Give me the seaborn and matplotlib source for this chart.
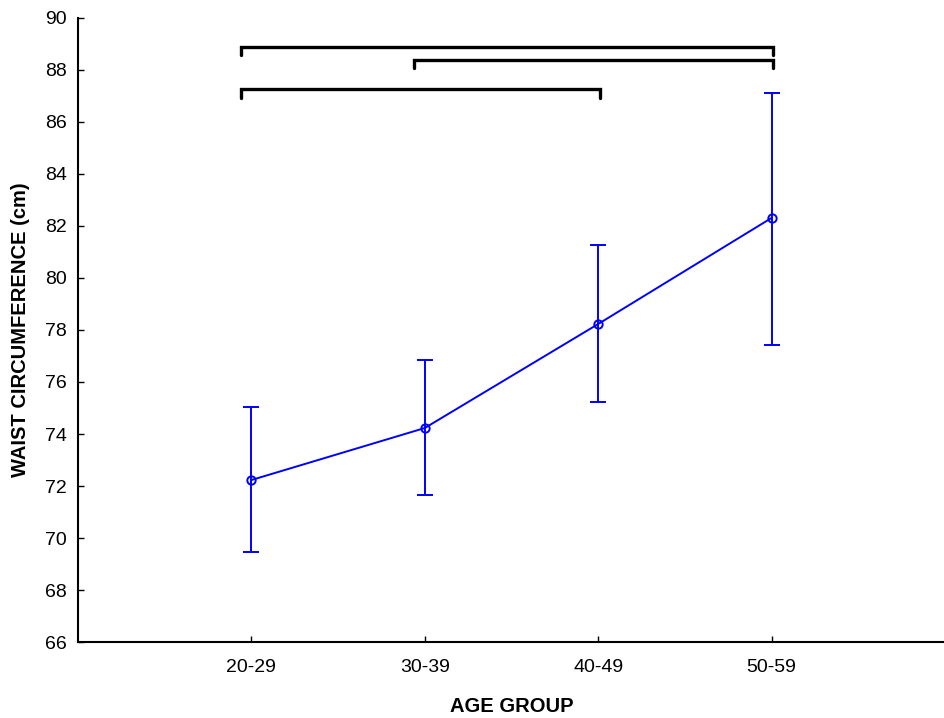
import numpy as np
import pandas as pd
import matplotlib
matplotlib.use("Agg")
import matplotlib.pyplot as plt
import seaborn as sns

# data
age_groups = ['20-29', '30-39', '40-49', '50-59']
waist_mean = [72.23, 74.23, 78.23, 82.31]
waist_upper = [75.04, 76.85, 81.27, 87.12]
waist_lower = [69.46, 71.65, 75.23, 77.42]

# significance brackets: (group from, group to, height)
bracket_from = [0, 1, 0]
bracket_to = [3, 3, 2]
bracket_y = [88.9, 88.4, 87.25]

sns.set_style("ticks")
plt.rcParams['font.family'] = ['Liberation Sans', 'DejaVu Sans']
plt.rcParams['text.color'] = 'black'
plt.rcParams['axes.labelcolor'] = 'black'

df = pd.DataFrame({'AGE GROUP': age_groups, 'WAIST': waist_mean})

fig = plt.figure(figsize=(9.45, 7.18), dpi=100)
ax = fig.add_axes([0.0825, 0.1058, 0.9175, 0.8692])

sns.pointplot(data=df, x='AGE GROUP', y='WAIST', color='#0000ff', errorbar=None,
              markers='o', linewidth=1.4, markersize=6, markerfacecolor='none',
              markeredgewidth=1.4, ax=ax)

pos = np.arange(len(age_groups))
mean = np.array(waist_mean)
yerr = [mean - np.array(waist_lower), np.array(waist_upper) - mean]
ax.errorbar(pos, mean, yerr=yerr, fmt='none', ecolor='#0000ff', elinewidth=1.4,
            capsize=6, capthick=1.4)

# brackets
tick_h = 0.32
for a, b, h in zip(bracket_from, bracket_to, bracket_y):
    x0 = a - 0.06
    x1 = b + 0.01
    ax.plot([x0, x0, x1, x1], [h - tick_h, h, h, h - tick_h], color='black',
            linewidth=2.4, solid_joinstyle='miter', clip_on=False)

ax.set_xlim(-1, 4)
ax.set_ylim(66, 90)
ax.set_yticks(np.arange(66, 91, 2))
ax.tick_params(direction='in', length=4, width=1, labelsize=14, colors='black')
ax.tick_params(axis='y', pad=8)
ax.tick_params(axis='x', pad=12)
ax.set_xlabel('AGE GROUP', fontsize=14.5, fontweight='bold', labelpad=15)
ax.set_ylabel('WAIST CIRCUMFERENCE (cm)', fontsize=14.5, fontweight='bold', labelpad=11)
sns.despine(ax=ax)
for s in ['left', 'bottom']:
    ax.spines[s].set_linewidth(1.5)
    ax.spines[s].set_color('black')

fig.savefig('out.png', dpi=100)
